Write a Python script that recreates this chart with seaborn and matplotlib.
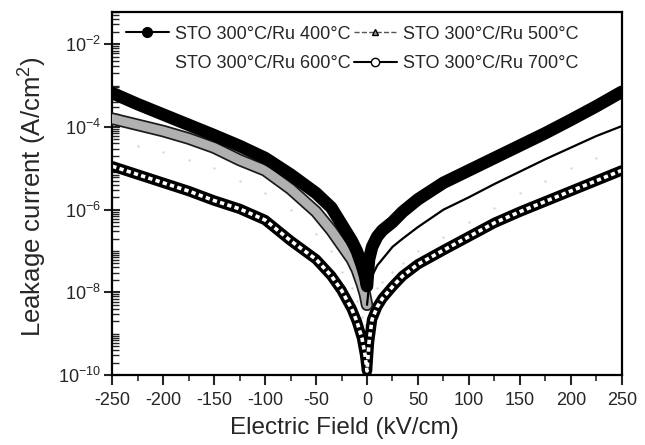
import matplotlib
matplotlib.use("Agg")
import numpy as np
import pandas as pd
import seaborn as sns
import matplotlib.pyplot as plt
import matplotlib.patheffects as pe
from matplotlib.lines import Line2D
from matplotlib.ticker import FixedLocator, LogLocator, NullFormatter, MultipleLocator, LogFormatterMathtext

# ---------------- data ----------------
field = [-250, -225, -200, -175, -150, -125, -100, -75, -50, -35, -25, -15, -10, -5, -2, 0,
         2, 5, 10, 15, 25, 35, 50, 75, 100, 125, 150, 175, 200, 225, 250]

# log10 of leakage current density (A/cm^2)
log_j_400 = [-3.18, -3.45, -3.70, -3.95, -4.20, -4.46, -4.75, -5.15, -5.60, -5.95, -6.35, -6.75, -7.00, -7.35, -7.60, -7.85,
             -7.20, -6.90, -6.65, -6.50, -6.30, -6.05, -5.75, -5.35, -5.05, -4.75, -4.45, -4.15, -3.83, -3.50, -3.15]
log_j_500 = [-3.80, -3.95, -4.10, -4.28, -4.50, -4.80, -5.05, -5.50, -6.05, -6.50, -6.85, -7.20, -7.45, -7.80, -8.05, -8.30,
             -7.85, -7.60, -7.35, -7.20, -6.90, -6.70, -6.42, -6.00, -5.70, -5.38, -5.08, -4.78, -4.50, -4.22, -3.98]
log_j_600 = [-4.30, -4.45, -4.60, -4.80, -5.00, -5.30, -5.60, -6.00, -6.60, -7.00, -7.50, -7.90, -8.20, -8.60, -8.80, -9.00,
             -8.60, -8.30, -7.90, -7.75, -7.50, -7.30, -7.00, -6.65, -6.30, -5.95, -5.60, -5.30, -5.00, -4.75, -4.50]
log_j_700 = [-4.95, -5.15, -5.35, -5.55, -5.78, -5.98, -6.25, -6.75, -7.20, -7.60, -7.95, -8.40, -8.70, -9.10, -9.50, -9.90,
             -9.20, -8.65, -8.35, -8.15, -7.86, -7.60, -7.32, -6.98, -6.65, -6.32, -6.05, -5.80, -5.55, -5.30, -5.05]

labels = ["STO 300°C/Ru 400°C", "STO 300°C/Ru 500°C", "STO 300°C/Ru 600°C", "STO 300°C/Ru 700°C"]
x_ticks = [-250, -200, -150, -100, -50, 0, 50, 100, 150, 200, 250]
y_ticks = [1e-10, 1e-8, 1e-6, 1e-4, 1e-2]

# ---------------- style ----------------
sns.set_theme(style="white")
plt.rcParams["font.family"] = ["Liberation Sans", "DejaVu Sans"]
plt.rcParams["mathtext.default"] = "regular"
plt.rcParams["axes.unicode_minus"] = False

def frame(logs):
    return pd.DataFrame({"E": field, "J": 10.0 ** np.array(logs)})

d400, d500, d600, d700 = frame(log_j_400), frame(log_j_500), frame(log_j_600), frame(log_j_700)

fig = plt.figure(figsize=(6.45, 4.45), dpi=100)
ax = fig.add_axes([0.174, 0.157, 0.790, 0.816])

# 600 C (faint, barely visible in the scan)
sns.scatterplot(data=d600, x="E", y="J", ax=ax, color="#d6d6d6", s=3, linewidth=0, zorder=1)

# 700 C : chain of open circles
sns.lineplot(data=d700, x="E", y="J", ax=ax, sort=False, color="black", lw=7.5, zorder=2)
sns.lineplot(data=d700, x="E", y="J", ax=ax, sort=False, color="white", lw=2.6,
             dashes=[(1.2, 0.9)], style=np.zeros(len(field)), legend=False, zorder=2.1)

# 500 C : stippled band at negative field, thin trace at positive field
neg500 = d500[d500.E <= 0]
pos500 = d500[d500.E >= 0]
sns.lineplot(data=neg500, x="E", y="J", ax=ax, sort=False, color="#b0b0b0", lw=6.5,
             path_effects=[pe.Stroke(linewidth=9, foreground="#1a1a1a"), pe.Normal()], zorder=3)
sns.lineplot(data=pos500, x="E", y="J", ax=ax, sort=False, color="black", lw=1.6, zorder=3)

# 400 C : solid black band of filled circles
sns.lineplot(data=d400, x="E", y="J", ax=ax, sort=False, color="black", lw=9, zorder=4)

ax.set_yscale("log")
ax.set_xlim(-250, 250)
ax.set_ylim(1e-10, 6e-2)

ax.xaxis.set_major_locator(FixedLocator(x_ticks))
ax.xaxis.set_minor_locator(MultipleLocator(25))
ax.yaxis.set_major_locator(FixedLocator(y_ticks))
ax.yaxis.set_major_formatter(LogFormatterMathtext())
ax.yaxis.set_minor_locator(LogLocator(base=10, subs=np.arange(1, 10), numticks=20))
ax.yaxis.set_minor_formatter(NullFormatter())

ax.tick_params(axis="x", which="major", direction="out", length=7, width=1.5, labelsize=13, bottom=True, pad=5)
ax.tick_params(axis="x", which="minor", direction="out", length=4, width=1.2, bottom=True)
ax.tick_params(axis="y", which="major", direction="inout", length=12, width=1.5, labelsize=13, left=True, pad=2)
ax.tick_params(axis="y", which="minor", direction="in", length=5, width=1.0, left=True)

for s in ax.spines.values():
    s.set_color("black")
    s.set_linewidth(1.6)

ax.set_xlabel("Electric Field (kV/cm)", fontsize=17.5)
ax.set_ylabel("Leakage current (A/cm$^2$)", fontsize=18.5)
ax.xaxis.set_label_coords(0.455, -0.115)
ax.yaxis.set_label_coords(-0.125, 0.49)

handles = [
    Line2D([], [], color="black", lw=1.5, marker="o", ms=7, mfc="black", mec="black"),
    Line2D([], [], color="none", lw=0),
    Line2D([], [], color="#555555", lw=1.0, ls="--", marker="^", ms=5, mfc="#999999", mec="black"),
    Line2D([], [], color="black", lw=1.5, marker="o", ms=6, mfc="white", mec="black"),
]
hl = [labels[0], labels[2], labels[1], labels[3]]
ax.legend(handles, hl, loc="upper left", bbox_to_anchor=(0.0, 1.0), ncol=2, frameon=False,
          fontsize=13, handlelength=2.4, handletextpad=0.3, columnspacing=0.2, labelspacing=0.7,
          borderpad=0.25)

fig.savefig("out.png", dpi=100)
